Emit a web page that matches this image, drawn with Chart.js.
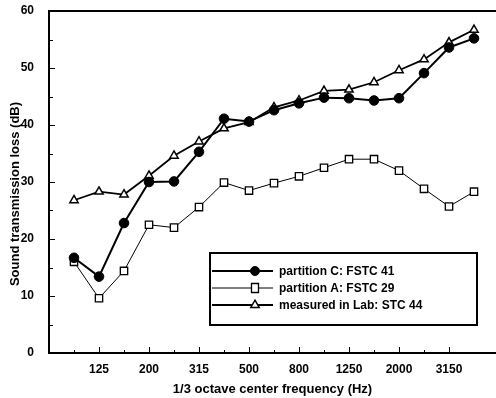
<!DOCTYPE html>
<html>
<head>
<meta charset="utf-8">
<script src="https://cdn.jsdelivr.net/npm/chart.js@4.4.0/dist/chart.umd.min.js"></script>
<style>
  html, body { margin: 0; padding: 0; background: #fff; }
</style>
</head>
<body>
<canvas id="myChart" width="496" height="398"></canvas>
<script>
// 1/3 octave bands (Hz)
const BANDS = ['100', '125', '160', '200', '250', '315', '400', '500', '630',
  '800', '1000', '1250', '1600', '2000', '2500', '3150', '4000'];

// sound transmission loss (dB)
const PARTITION_C = [16.7, 13.4, 22.8, 30.0, 30.1, 35.3, 41.1, 40.6, 42.6,
  43.8, 44.8, 44.7, 44.3, 44.7, 49.1, 53.6, 55.2];
const PARTITION_A = [16.0, 9.6, 14.4, 22.5, 22.0, 25.6, 29.9, 28.5, 29.8,
  31.0, 32.5, 34.0, 34.0, 32.0, 28.8, 25.7, 28.3];
const LAB = [26.8, 28.3, 27.8, 31.1, 34.6, 37.1, 39.4, 40.5, 43.1,
  44.3, 46.0, 46.2, 47.5, 49.6, 51.5, 54.5, 56.7];

const SERIES_LABELS = ['partition C: FSTC 41', 'partition A: FSTC 29', 'measured in Lab: STC 44'];
const Y_TITLE = 'Sound transmission loss (dB)';

const FONT_FAMILY = '"Liberation Sans", Arial, sans-serif';

function toPoints(values) {
  return values.map(function(v, i) { return {x: i, y: v}; });
}

// frame, inward ticks, y title and the boxed legend
const framePlugin = {
  id: 'frame',
  afterDraw: function(chart) {
    const ctx = chart.ctx;
    const a = chart.chartArea;
    const xs = chart.scales.x;
    const ys = chart.scales.y;
    ctx.save();
    ctx.strokeStyle = '#000';
    ctx.lineWidth = 2;
    ctx.beginPath();
    ctx.moveTo(a.right, a.top);
    ctx.lineTo(a.left, a.top);
    ctx.lineTo(a.left, a.bottom);
    ctx.lineTo(a.right, a.bottom);
    ctx.stroke();

    ctx.lineWidth = 1;
    ctx.beginPath();
    ys.ticks.forEach(function(t) {
      const py = Math.round(ys.getPixelForValue(t.value)) + 0.5;
      const len = t.value % 10 === 0 ? 6 : 4;
      ctx.moveTo(a.left, py);
      ctx.lineTo(a.left + len, py);
    });
    xs.ticks.forEach(function(t) {
      if (t.value < 0 || t.value >= BANDS.length || t.value % 1 !== 0) return;
      const px = Math.round(xs.getPixelForValue(t.value)) + 0.5;
      const len = t.value % 2 === 1 ? 6 : 3;
      ctx.moveTo(px, a.bottom);
      ctx.lineTo(px, a.bottom - len);
    });
    ctx.stroke();

    // y axis title
    ctx.save();
    ctx.translate(15, (a.top + a.bottom) / 2 + 12);
    ctx.rotate(-Math.PI / 2);
    ctx.font = 'bold 13px ' + FONT_FAMILY;
    ctx.textAlign = 'center';
    ctx.textBaseline = 'middle';
    ctx.fillStyle = '#000';
    ctx.fillText(Y_TITLE, 0, 0);
    ctx.restore();

    // legend box
    const bw = 267, bh = 72;
    const bx = a.right - 19 - bw;
    const by = a.bottom - 28 - bh;
    ctx.lineWidth = 2;
    ctx.strokeRect(bx, by, bw, bh);

    ctx.font = 'bold 12px ' + FONT_FAMILY;
    ctx.textBaseline = 'middle';
    ctx.fillStyle = '#000';
    chart.data.datasets.forEach(function(ds, i) {
      const ry = by + 18 + i * 17;
      ctx.lineWidth = ds.borderWidth;
      ctx.beginPath();
      ctx.moveTo(bx + 2, ry);
      ctx.lineTo(bx + 63, ry);
      ctx.stroke();
      const mx = bx + 45;
      ctx.lineWidth = ds.pointBorderWidth;
      ctx.fillStyle = ds.pointBackgroundColor;
      ctx.beginPath();
      if (ds.pointStyle === 'circle') {
        ctx.arc(mx, ry, 4.5, 0, Math.PI * 2);
      } else if (ds.pointStyle === 'rect') {
        ctx.rect(mx - 3.5, ry - 4.5, 7, 9);
      } else {
        ctx.moveTo(mx, ry - 4.8);
        ctx.lineTo(mx + 4.2, ry + 2.4);
        ctx.lineTo(mx - 4.2, ry + 2.4);
        ctx.closePath();
      }
      ctx.fill();
      ctx.stroke();
      ctx.fillStyle = '#000';
      ctx.fillText(ds.label, bx + 69, ry + 1);
    });
    ctx.restore();
  }
};

window.onload = function() {
  const ctx = document.getElementById('myChart');

  const data = {
    datasets: [{
      label: SERIES_LABELS[0],
      data: toPoints(PARTITION_C),
      borderColor: '#000',
      borderWidth: 2,
      pointStyle: 'circle',
      pointRadius: 4.8,
      pointBackgroundColor: '#000',
      pointBorderColor: '#000',
      pointBorderWidth: 1
    }, {
      label: SERIES_LABELS[1],
      data: toPoints(PARTITION_A),
      borderColor: '#000',
      borderWidth: 1,
      pointStyle: 'rect',
      pointRadius: 5.2,
      pointBackgroundColor: '#fff',
      pointBorderColor: '#000',
      pointBorderWidth: 1.3
    }, {
      label: SERIES_LABELS[2],
      data: toPoints(LAB),
      borderColor: '#000',
      borderWidth: 1.8,
      pointStyle: 'triangle',
      pointRadius: 4.8,
      pointBackgroundColor: '#fff',
      pointBorderColor: '#000',
      pointBorderWidth: 1.5
    }]
  };

  const tickFont = {family: FONT_FAMILY, size: 12, weight: 'bold'};
  const titleFont = {family: FONT_FAMILY, size: 13, weight: 'bold'};

  const config = {
    type: 'line',
    data: data,
    plugins: [framePlugin],
    options: {
      responsive: false,
      animation: false,
      events: [],
      layout: {autoPadding: false, padding: {top: 11, right: 0, bottom: 0, left: 0}},
      elements: {line: {tension: 0}},
      plugins: {legend: {display: false}, tooltip: {enabled: false}},
      scales: {
        x: {
          type: 'linear',
          bounds: 'data',
          min: -1,
          max: 16.88,
          grid: {display: false},
          border: {display: false},
          afterFit: function(s) {
            s.height = 45;
            s.paddingLeft = 0;
            s.paddingRight = 0;
          },
          ticks: {
            stepSize: 1,
            autoSkip: false,
            maxRotation: 0,
            padding: 1,
            color: '#000',
            font: tickFont,
            callback: function(v) {
              return (v >= 0 && v < BANDS.length && v % 2 === 1) ? BANDS[v] : '';
            }
          },
          title: {
            display: true,
            text: '1/3 octave center frequency (Hz)',
            color: '#000',
            font: titleFont,
            padding: {top: 0, bottom: 1}
          }
        },
        y: {
          min: 0,
          max: 60,
          grid: {display: false},
          border: {display: false},
          afterFit: function(s) {
            s.width = 49;
            s.paddingTop = 0;
            s.paddingBottom = 0;
          },
          ticks: {
            stepSize: 5,
            padding: 7,
            color: '#000',
            font: tickFont,
            callback: function(v) { return v % 10 === 0 ? v : ''; }
          }
        }
      }
    }
  };

  new Chart(ctx, config);
};
</script>
</body>
</html>
